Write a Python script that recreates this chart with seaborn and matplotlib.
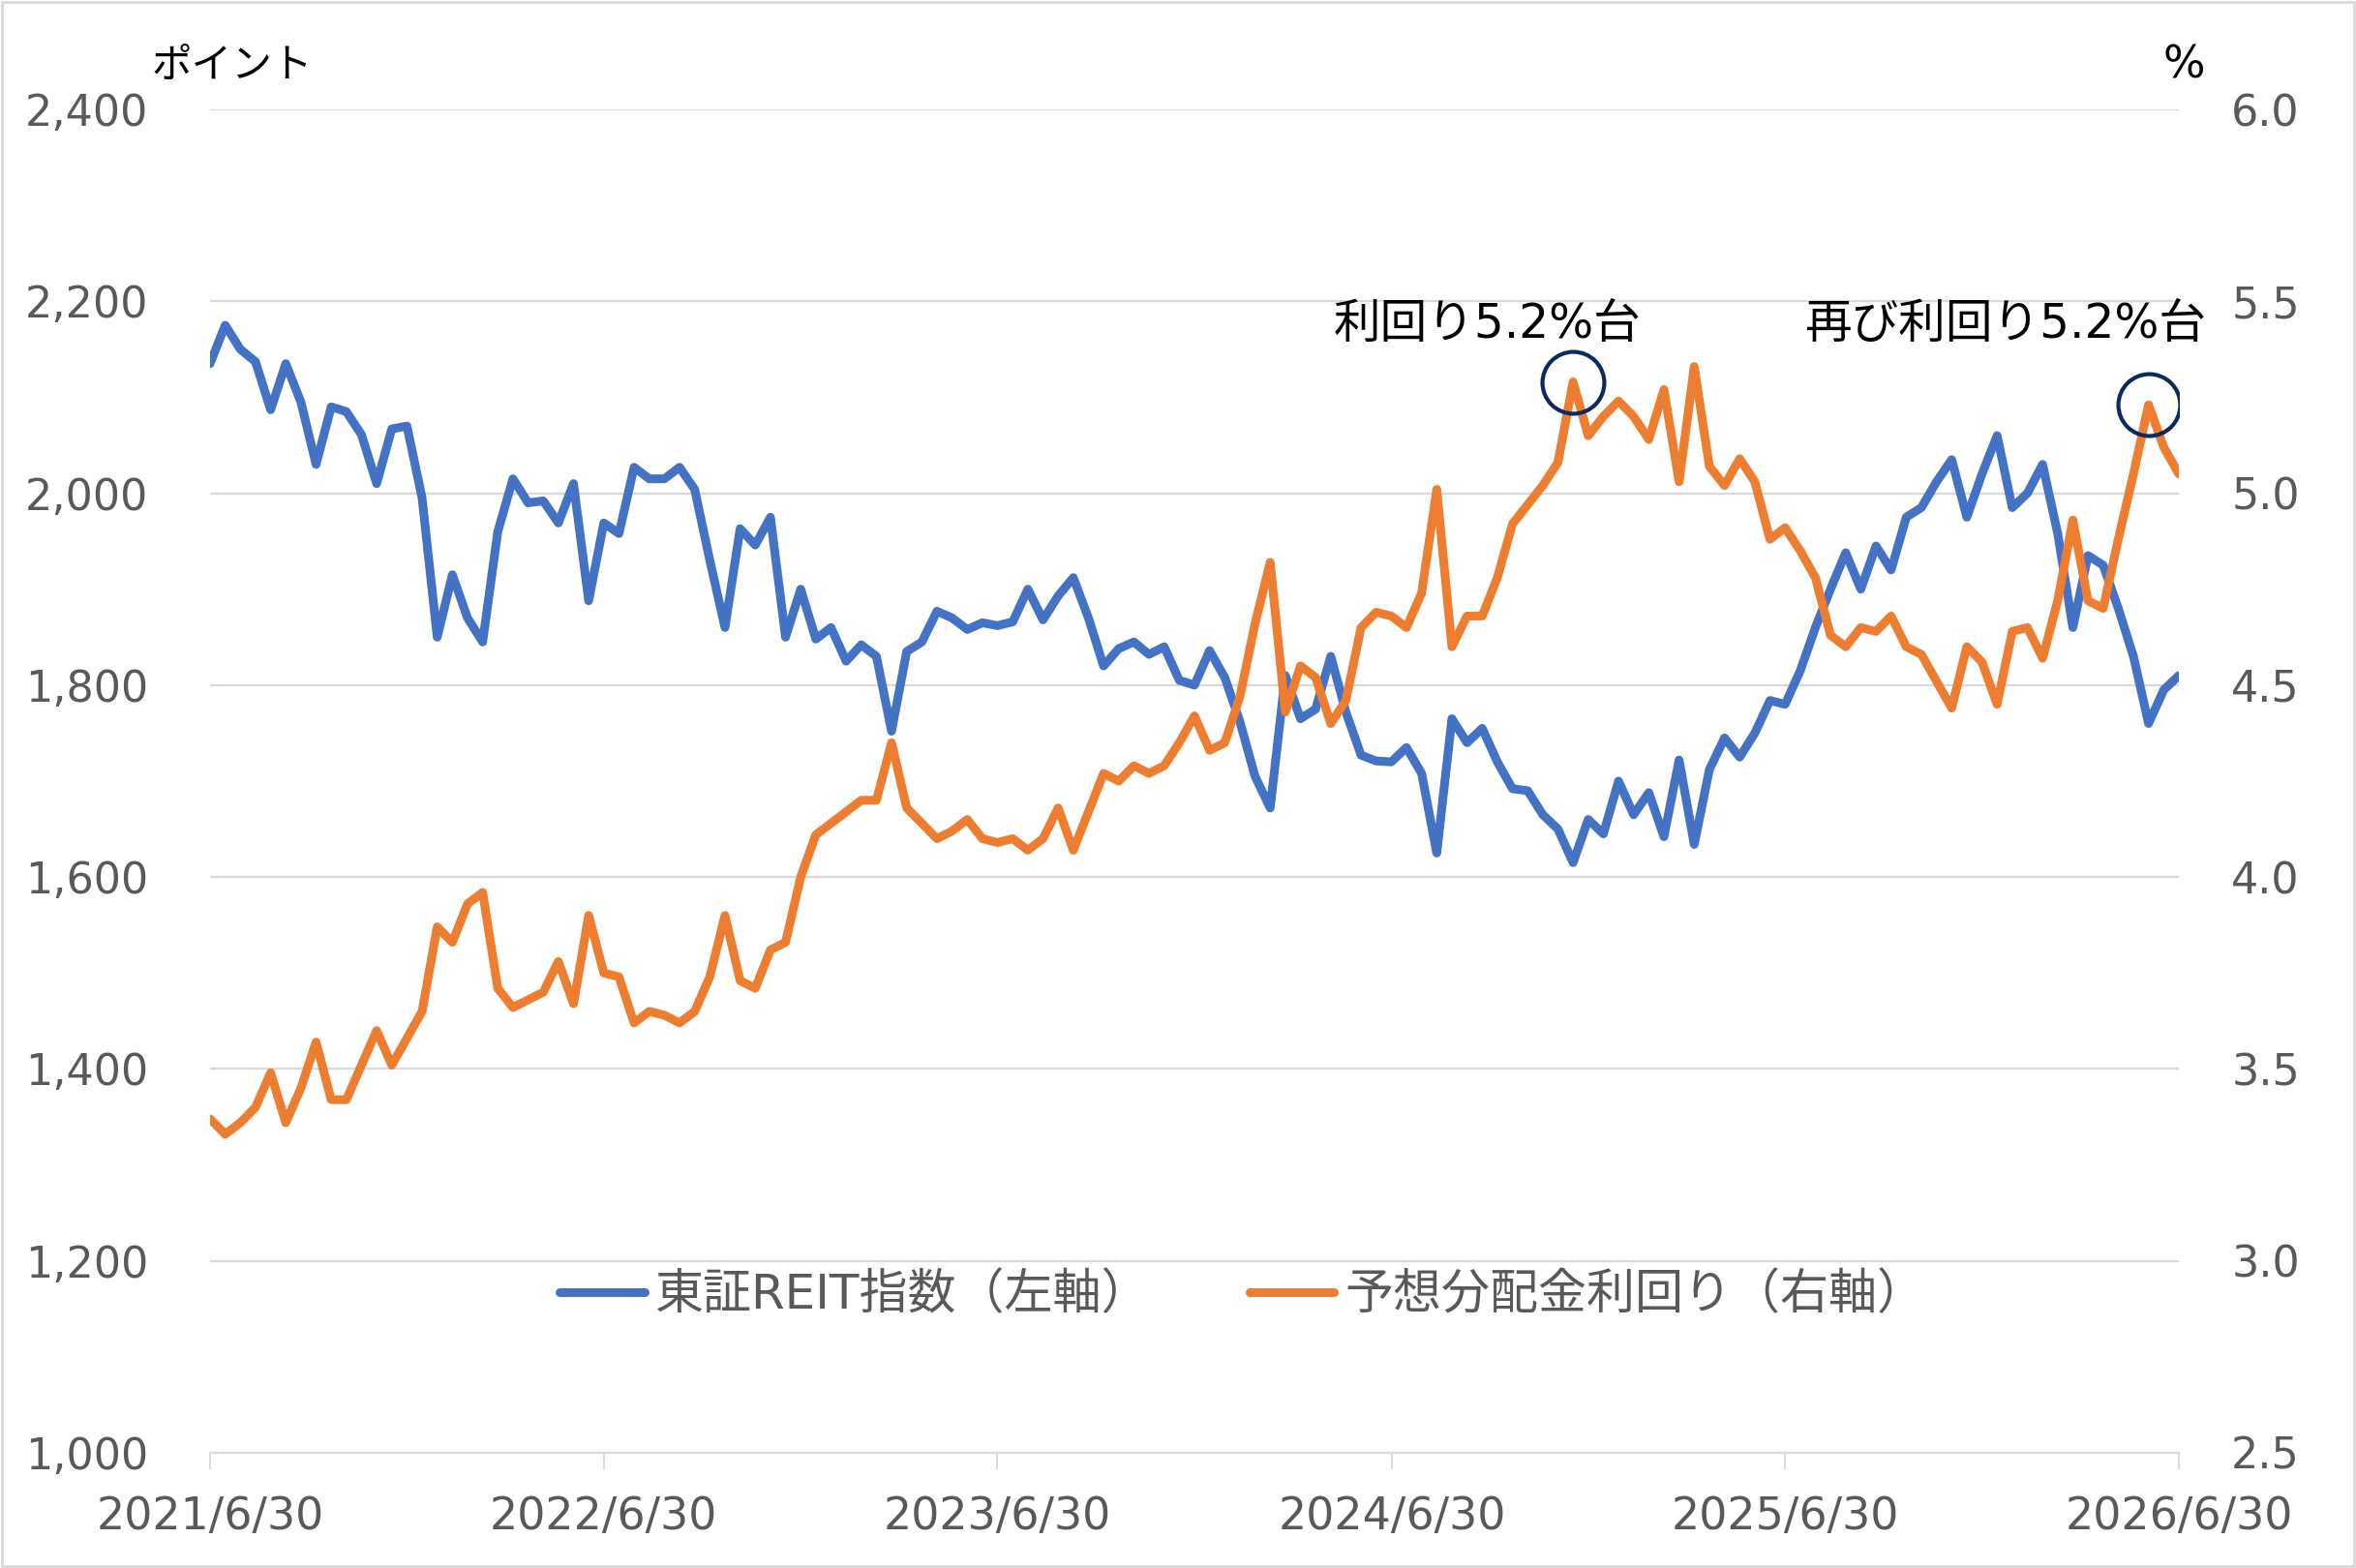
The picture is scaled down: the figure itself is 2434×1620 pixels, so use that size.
import numpy as np
import pandas as pd
import matplotlib
matplotlib.use('Agg')
import matplotlib.pyplot as plt
import seaborn as sns
from matplotlib.patches import Rectangle

#======================================================================================
# Data
reitIndex = [2135, 2175, 2150, 2137, 2087, 2135, 2095, 2030, 2090, 2085, 2061, 2010,
             2067, 2070, 1995, 1850, 1915, 1870, 1845, 1960, 2015, 1990,
             1992, 1969, 2010, 1888, 1969, 1958, 2027, 2015, 2015, 2027, 2004, 1930,
             1860, 1963, 1946, 1975, 1850, 1900, 1848, 1860, 1825, 1842,
             1830, 1752, 1835, 1845, 1877, 1870, 1858, 1865, 1862, 1866, 1900, 1868,
             1893, 1912, 1870, 1820, 1838, 1845, 1832, 1840, 1805, 1800,
             1836, 1808, 1762, 1705, 1672, 1810, 1765, 1775, 1830, 1772, 1727, 1721,
             1720, 1735, 1708, 1625, 1765, 1740, 1755, 1720, 1692,
             1690, 1665, 1650, 1615, 1660, 1645, 1700, 1665, 1688, 1642, 1722, 1634,
             1712, 1745, 1725, 1750, 1784, 1780, 1815, 1860, 1900, 1938,
             1900, 1945, 1920, 1975, 1985, 2012, 2035, 1975, 2020, 2060, 1985, 2000,
             2030, 1958, 1860, 1935, 1925, 1880, 1830, 1760, 1795, 1810]

divYield = [3.37, 3.33, 3.36, 3.40, 3.49, 3.36, 3.45, 3.57, 3.42, 3.42, 3.51, 3.60,
            3.51, 3.58, 3.65, 3.87, 3.83, 3.93, 3.96, 3.71, 3.66, 3.68,
            3.70, 3.78, 3.67, 3.90, 3.75, 3.74, 3.62, 3.65, 3.64, 3.62, 3.65, 3.74,
            3.90, 3.73, 3.71, 3.81, 3.83, 4.00, 4.11, 4.14, 4.17, 4.20,
            4.20, 4.35, 4.18, 4.14, 4.10, 4.12, 4.15, 4.10, 4.09, 4.10, 4.07, 4.10,
            4.18, 4.07, 4.17, 4.27, 4.25, 4.29, 4.27, 4.29, 4.35, 4.42,
            4.33, 4.35, 4.47, 4.66, 4.82, 4.43, 4.55, 4.52, 4.40, 4.46, 4.65, 4.69,
            4.68, 4.65, 4.74, 5.01, 4.60, 4.68, 4.68, 4.78, 4.92,
            4.97, 5.02, 5.08, 5.29, 5.15, 5.20, 5.24, 5.20, 5.14, 5.27, 5.03, 5.33,
            5.07, 5.02, 5.09, 5.03, 4.88, 4.91, 4.85, 4.78, 4.63, 4.60,
            4.65, 4.64, 4.68, 4.60, 4.58, 4.51, 4.44, 4.60, 4.56, 4.45, 4.64, 4.65,
            4.57, 4.72, 4.93, 4.72, 4.70, 4.88, 5.05, 5.23, 5.12, 5.05]

startDate = '2021-06-30'
endDate   = '2026-06-30'
tickDates  = ['2021-06-30', '2022-06-30', '2023-06-30', '2024-06-30', '2025-06-30', '2026-06-30']
tickLabels = ['2021/6/30', '2022/6/30', '2023/6/30', '2024/6/30', '2025/6/30', '2026/6/30']

reitLabel  = '東証REIT指数（左軸）'
yieldLabel = '予想分配金利回り（右軸）'
notes = ['利回り5.2%台', '再び利回り5.2%台']
circled = [90, 128]   # indices of the circled yield peaks
#======================================================================================

df = pd.DataFrame({'date': pd.date_range(startDate, endDate, periods=len(reitIndex)),
                   'reit': reitIndex,
                   'yield': divYield})

sns.set_theme(style='white')
plt.rcParams['font.family'] = ['DejaVu Sans', 'Noto Sans CJK JP']

blue   = '#4472C4'
orange = '#ED7D31'
grey   = '#595959'
gridc  = '#D9D9D9'

fig = plt.figure(figsize=(24.34, 16.2), dpi=100)
ax = fig.add_axes([217/2434, 1 - 1501/1620, (2251-217)/2434, (1501-113)/1620])
ax2 = ax.twinx()

sns.lineplot(data=df, x='date', y='reit', ax=ax, color=blue, linewidth=6.5,
             label=reitLabel, solid_capstyle='round', solid_joinstyle='round')
sns.lineplot(data=df, x='date', y='yield', ax=ax2, color=orange, linewidth=6.5,
             label=yieldLabel, solid_capstyle='round', solid_joinstyle='round')

# axes ranges
ax.set_ylim(1000, 2400)
ax.set_yticks(np.arange(1000, 2401, 200))
ax.set_yticklabels([f'{v:,}' for v in range(1000, 2401, 200)])
ax2.set_ylim(2.5, 6.0)
ax2.set_yticks(np.arange(2.5, 6.01, 0.5))
ax2.set_yticklabels([f'{v:.1f}' for v in np.arange(2.5, 6.01, 0.5)])
ax.set_xlim(pd.Timestamp(startDate), pd.Timestamp(endDate))
ax.set_xticks(pd.to_datetime(tickDates))
ax.set_xticklabels(tickLabels)

ax.set_xlabel('')
ax.set_ylabel('')
ax2.set_ylabel('')

ax.yaxis.grid(True, color=gridc, linewidth=1.6)
ax.set_axisbelow(True)
for a in (ax, ax2):
    for s in a.spines.values():
        s.set_visible(False)
ax.spines['bottom'].set_visible(True)
ax.spines['bottom'].set_color(gridc)
ax.spines['bottom'].set_linewidth(1.6)

ax.tick_params(axis='y', length=0, pad=46, labelsize=32, labelcolor=grey)
ax2.tick_params(axis='y', length=0, pad=39, labelsize=32, labelcolor=grey)
ax.tick_params(axis='x', bottom=True, length=12, width=1.3, color=gridc, pad=20,
               labelsize=33, labelcolor=grey)
# labels sit a touch above their gridlines in the original
for lab in ax.get_yticklabels() + ax2.get_yticklabels():
    lab.set_verticalalignment('center_baseline')

# legend
h1, l1 = ax.get_legend_handles_labels()
h2, l2 = ax2.get_legend_handles_labels()
ax.get_legend().remove()
ax2.get_legend().remove()
fig.legend(h1 + h2, l1 + l2, loc='center', bbox_to_anchor=(0.5275, 1 - 1338/1620),
           ncol=2, frameon=False, fontsize=36, labelcolor=grey, handlelength=1.75,
           handletextpad=0.22, columnspacing=2.05)

# circled peaks + notes
for idx in circled:
    ax2.plot(df['date'][idx], df['yield'][idx], marker='o', markersize=46,
             markerfacecolor='none', markeredgecolor='#0D2A5E', markeredgewidth=3, zorder=5)
fig.text(1537/2434, 1 - 335/1620, notes[0], ha='center', va='center', fontsize=35, color='black')
fig.text(2072/2434, 1 - 335/1620, notes[1], ha='center', va='center', fontsize=35, color='black')

# axis unit labels
fig.text(240/2434, 1 - 68/1620, 'ポイント', ha='center', va='center', fontsize=30, color='black')
fig.text(2256/2434, 1 - 68/1620, '%', ha='center', va='center', fontsize=33, color='black')

fig.patches.append(Rectangle((0.001, 0.001), 0.998, 0.998, transform=fig.transFigure,
                             fill=False, edgecolor=gridc, linewidth=2))

fig.savefig('out.png', dpi=100)
